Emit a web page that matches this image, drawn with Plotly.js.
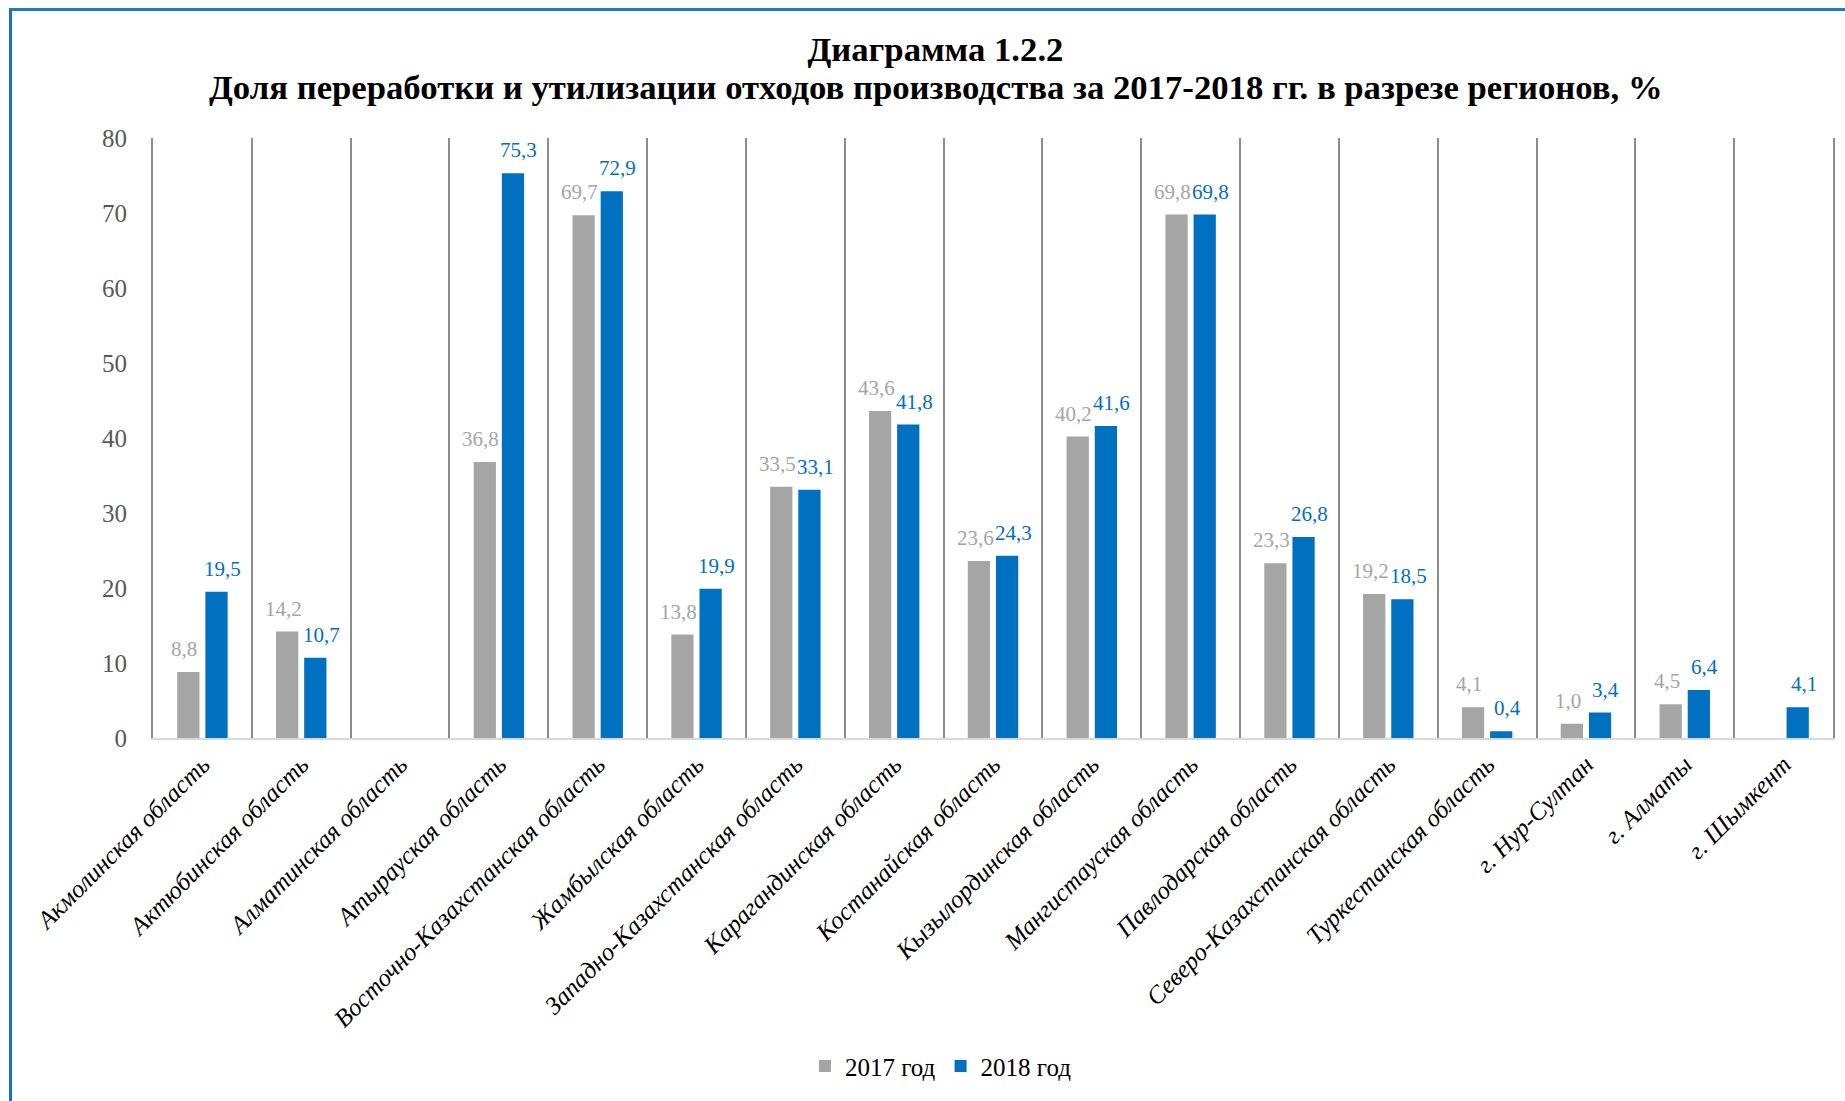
<!DOCTYPE html>
<html>
<head>
<meta charset="utf-8">
<script src="https://cdn.plot.ly/plotly-3.0.1.min.js"></script>
<style>
  html, body { margin: 0; padding: 0; background: #ffffff; overflow: hidden; }
  #chart { position: absolute; left: 0; top: 0; width: 1845px; height: 1101px; }
  #frame { position: absolute; left: 9px; top: 8px; width: 1900px; height: 1200px;
           border-left: 3px solid #0f74c4; border-top: 3px solid #1f7bc8; pointer-events: none; }
</style>
</head>
<body>
<div id="chart"></div>
<div id="frame"></div>
<script>
const categories = [
  "Акмолинская область", "Актюбинская область", "Алматинская область", "Атырауская область",
  "Восточно-Казахстанская область", "Жамбылская область", "Западно-Казахстанская область",
  "Карагандинская область", "Костанайская область", "Кызылординская область",
  "Мангистауская область", "Павлодарская область", "Северо-Казахстанская область",
  "Туркестанская область", "г. Нур-Султан", "г. Алматы", "г. Шымкент"
];
const seriesNames = ["2017 год", "2018 год"];
const titleLine1 = "Диаграмма 1.2.2";
const titleLine2 = "Доля переработки и утилизации отходов производства за 2017-2018 гг. в разрезе регионов, %";

// bar heights as drawn
const values2017 = [8.8, 14.2, null, 36.8, 69.7, 13.8, 33.5, 43.6, 23.6, 40.2, 69.8, 23.3, 19.2, 4.1, 1.9, 4.5, null];
const values2018 = [19.5, 10.7, null, 75.3, 72.9, 19.9, 33.1, 41.8, 24.3, 41.6, 69.8, 26.8, 18.5, 0.9, 3.4, 6.4, 4.1];

// data labels as printed
const labels2017 = ["8,8", "14,2", null, "36,8", "69,7", "13,8", "33,5", "43,6", "23,6", "40,2", "69,8", "23,3", "19,2", "4,1", "1,0", "4,5", null];
const labels2018 = ["19,5", "10,7", null, "75,3", "72,9", "19,9", "33,1", "41,8", "24,3", "41,6", "69,8", "26,8", "18,5", "0,4", "3,4", "6,4", "4,1"];

const yTicks = [0, 10, 20, 30, 40, 50, 60, 70, 80];

const COLOR17 = "#a5a5a5";
const COLOR18 = "#0070c0";
const SERIF = "'Liberation Serif', 'DejaVu Serif', serif";

const traces = [
  { type: "bar", name: seriesNames[0], x: categories, y: values2017,
    marker: { color: COLOR17 }, hoverinfo: "x+y" },
  { type: "bar", name: seriesNames[1], x: categories, y: values2018,
    marker: { color: COLOR18 }, hoverinfo: "x+y" }
];

const annotations = [];
function addLabels(vals, labels, color, shift) {
  vals.forEach((v, i) => {
    if (v === null || labels[i] === null) return;
    annotations.push({
      x: categories[i], y: v, xref: "x", yref: "y",
      text: labels[i], showarrow: false,
      xanchor: "center", yanchor: "bottom",
      xshift: shift, yshift: 9,
      font: { family: SERIF, size: 21, color: color }
    });
  });
}
addLabels(values2017, labels2017, COLOR17, -18);
addLabels(values2018, labels2018, COLOR18, 20);

// second title line
annotations.push({
  text: "<b>" + titleLine2 + "</b>", showarrow: false,
  xref: "paper", yref: "paper", x: 0.466, y: 1.085,
  xanchor: "center", yanchor: "middle",
  font: { family: SERIF, size: 34.7, color: "#000000" }
});

const layout = {
  width: 1845, height: 1101,
  paper_bgcolor: "rgba(0,0,0,0)", plot_bgcolor: "#ffffff",
  margin: { l: 153, r: 12, t: 138, b: 361 },
  title: {
    text: "<b>" + titleLine1 + "</b>",
    x: 0.507, xanchor: "center", xref: "container",
    y: 0.9555, yanchor: "middle", yref: "container",
    font: { family: SERIF, size: 34.7, color: "#000000" }
  },
  barmode: "group", bargap: 0.43, bargroupgap: 0.21,
  showlegend: true,
  legend: {
    orientation: "h", x: 0.469, xanchor: "center", y: -0.547, yanchor: "middle",
    font: { family: SERIF, size: 25, color: "#000000" },
    itemwidth: 30, traceorder: "normal"
  },
  xaxis: {
    type: "category", tickson: "boundaries", ticks: "",
    showgrid: true, gridcolor: "#8c8c8c", gridwidth: 2,
    showline: true, linecolor: "#d9d9d9", linewidth: 2,
    tickangle: -45,
    tickfont: { family: SERIF, size: 25, color: "#000000", style: "italic" },
    automargin: false
  },
  yaxis: {
    range: [0, 80], tickvals: yTicks, ticktext: yTicks.map(String),
    showgrid: false, zeroline: false,
    showline: true, linecolor: "#8c8c8c", linewidth: 2, mirror: true,
    ticks: "", ticklabelstandoff: 19,
    tickfont: { family: SERIF, size: 25, color: "#595959" },
    automargin: false
  },
  annotations: annotations
};

Plotly.newPlot("chart", traces, layout, { displayModeBar: false, staticPlot: true });
</script>
</body>
</html>
